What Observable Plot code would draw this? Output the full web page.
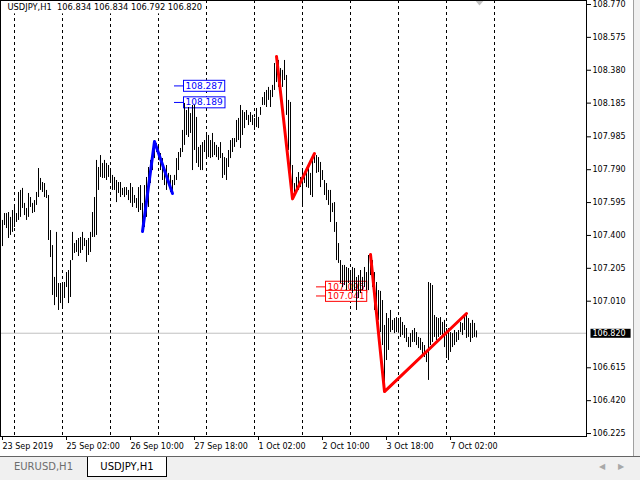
<!DOCTYPE html>
<html>
<head>
<meta charset="utf-8">
<script src="https://cdn.jsdelivr.net/npm/d3@7"></script>
<script src="https://cdn.jsdelivr.net/npm/@observablehq/plot@0.6"></script>
<style>
html, body { margin: 0; padding: 0; background: #f0f0f0; }
#wrap { position: relative; width: 640px; height: 480px; overflow: hidden; background: #f0f0f0; font-family: "DejaVu Sans", sans-serif; }
#chart { position: absolute; left: 0; top: 0; }
#chart svg text { white-space: pre; }
#vline { position: absolute; left: 633px; top: 0; width: 1px; height: 457px; background: #a0a0a0; }
#tabs { position: absolute; left: 0; top: 456px; width: 640px; height: 24px; background: #f0f0f0; border-top: 1px solid #646464; box-sizing: border-box; }
.tab { position: absolute; top: 0; font-size: 10px; text-align: center; line-height: 20px; }
.inactive { left: 0; width: 87px; height: 20px; color: #6d6d6d; }
.active { left: 87px; width: 78px; height: 19px; background: #fff; border: 1px solid #000; border-top: none; color: #000; }
.arrow { position: absolute; top: 5px; font-size: 8px; color: #a8a8a8; }
</style>
</head>
<body>
<div id="wrap">
  <div id="chart"></div>
  <div id="vline"></div>
  <div id="tabs">
    <div class="tab inactive">EURUSD,H1</div>
    <div class="tab active">USDJPY,H1</div>
    <span class="arrow" style="left:599px">◀</span>
    <span class="arrow" style="left:618px">▶</span>
  </div>
</div>
<script>
// ---- data ----
const symbol = "USDJPY";
const period = "H1";
const lastOHLC = [106.834, 106.834, 106.792, 106.820];

const highs = [
107.489,107.530,107.530,107.536,107.507,107.548,107.578,107.530,107.655,107.667,
107.679,107.590,107.560,107.649,107.625,107.590,107.607,107.655,107.797,107.738,
107.714,107.708,107.667,107.637,107.429,107.340,107.151,107.418,107.115,107.115,
107.115,107.121,107.180,107.192,107.251,107.418,107.352,107.370,107.382,107.388,
107.418,107.382,107.370,107.382,107.418,107.536,107.625,107.845,107.803,107.874,
107.827,107.845,107.827,107.815,107.797,107.756,107.744,107.726,107.714,107.714,
107.679,107.684,107.684,107.667,107.708,107.684,107.637,107.619,107.684,107.696,
107.590,107.696,107.744,107.803,107.845,107.892,107.957,107.945,107.922,107.886,
107.856,107.803,107.815,107.768,107.756,107.726,107.756,107.856,107.892,107.916,
108.023,108.183,108.141,108.159,108.123,108.171,108.171,108.100,107.922,107.934,
107.951,107.963,108.005,107.993,107.963,108.005,107.951,107.934,107.922,107.951,
107.886,107.862,107.856,107.904,107.963,107.975,107.975,108.082,108.094,108.171,
108.141,108.129,108.141,108.112,108.129,108.112,108.094,108.153,108.100,108.159,
108.218,108.248,108.260,108.278,108.260,108.290,108.420,108.462,108.438,108.390,
108.379,108.438,108.349,108.201,108.189,107.815,107.708,107.744,107.773,107.744,
107.785,107.756,107.785,107.797,107.768,107.862,107.886,107.874,107.862,107.833,
107.785,107.726,107.708,107.667,107.667,107.590,107.595,107.477,107.352,107.251,
107.222,107.222,107.210,107.204,107.192,107.210,107.204,107.151,107.162,107.192,
107.151,107.210,107.180,107.281,107.287,107.251,107.180,107.121,107.073,107.068,
107.014,106.866,106.937,106.907,106.955,106.896,106.907,106.913,106.907,106.913,
106.884,106.866,106.848,106.795,106.818,106.836,106.848,106.824,106.795,106.789,
106.765,106.747,106.718,107.121,107.115,107.103,106.925,106.913,106.907,106.913,
106.884,106.896,106.848,106.848,106.824,106.818,106.836,106.824,106.836,106.884,
106.878,106.913,106.937,106.907,106.878,106.896,106.878,106.834
];
const lows = [
107.334,107.459,107.441,107.382,107.400,107.418,107.447,107.477,107.489,107.507,
107.560,107.518,107.489,107.507,107.566,107.530,107.536,107.578,107.625,107.667,
107.655,107.625,107.619,107.370,107.269,107.044,106.984,107.032,106.955,106.996,
106.967,107.026,107.091,106.996,107.032,107.251,107.293,107.299,107.275,107.293,
107.311,107.334,107.240,107.281,107.299,107.388,107.388,107.400,107.667,107.744,
107.738,107.738,107.726,107.744,107.708,107.667,107.667,107.595,107.649,107.625,
107.637,107.625,107.637,107.607,107.590,107.566,107.590,107.560,107.536,107.548,
107.423,107.447,107.507,107.566,107.708,107.785,107.856,107.892,107.845,107.785,
107.726,107.696,107.667,107.696,107.655,107.649,107.696,107.726,107.785,107.862,
107.892,107.934,107.993,107.981,108.005,107.785,107.904,107.827,107.803,107.785,
107.785,107.892,107.862,107.862,107.856,107.862,107.874,107.862,107.845,107.856,
107.738,107.756,107.726,107.803,107.856,107.892,107.922,107.951,107.963,107.916,
107.993,108.034,108.082,108.052,108.070,108.052,108.023,108.040,108.034,108.112,
108.171,108.171,108.159,108.201,108.159,108.218,108.260,108.307,108.278,108.218,
108.278,108.319,108.112,107.904,107.744,107.617,107.625,107.655,107.667,107.684,
107.566,107.708,107.684,107.679,107.637,107.625,107.827,107.768,107.773,107.684,
107.726,107.637,107.607,107.578,107.477,107.536,107.418,107.251,107.234,107.115,
107.091,107.103,107.073,107.115,107.073,107.056,107.073,106.955,107.026,107.056,
107.073,107.091,107.073,107.073,107.162,107.091,106.955,106.955,106.896,106.824,
106.747,106.474,106.658,106.718,106.824,106.836,106.818,106.824,106.824,106.795,
106.807,106.789,106.765,106.735,106.735,106.765,106.765,106.747,106.729,106.718,
106.688,106.676,106.646,106.540,106.747,106.765,106.795,106.777,106.795,106.807,
106.807,106.735,106.670,106.658,106.706,106.735,106.747,106.765,106.777,106.824,
106.807,106.836,106.789,106.795,106.765,106.789,106.795,106.792
];

const yTicks = [108.770,108.575,108.380,108.185,107.985,107.790,107.595,107.400,107.205,107.010,106.615,106.420,106.225];
const xTickBars = [0,32,64,96,128,160,192,224];
const xTickLabels = ["23 Sep 2019","25 Sep 02:00","26 Sep 10:00","27 Sep 18:00","1 Oct 02:00","2 Oct 10:00","3 Oct 18:00","7 Oct 02:00"];
const daySepBars = [6,30,54,78,102,126,150,174,198,222,246];

const blueZigBars = [70,76,85];
const blueZigPrices = [107.423,107.957,107.649];
const redZig1Bars = [137,145,156];
const redZig1Prices = [108.462,107.617,107.886];
const redZig2Bars = [184,191,232];
const redZig2Prices = [107.287,106.474,106.937];

const blueLabelPrices = [108.287,108.189];
const blueLabelBar = 86;
const redLabelPrices = [107.095,107.041];
const redLabelBar = 157;
const leaderBars = 4.5;
const shiftBar = 238.5;

// ---- tables ----
const bars = highs.map((h, i) => ({i, high: h, low: lows[i]}));
const zig = (b, p) => b.map((x, k) => ({bar: x, price: p[k]}));
const blueZig = zig(blueZigBars, blueZigPrices);
const redZig1 = zig(redZig1Bars, redZig1Prices);
const redZig2 = zig(redZig2Bars, redZig2Prices);
const blueLabels = blueLabelPrices.map(p => ({bar: blueLabelBar, price: p}));
const redLabels = redLabelPrices.map(p => ({bar: redLabelBar, price: p}));
const close = lastOHLC[3];
const title = `${symbol},${period}  ` + lastOHLC.map(v => v.toFixed(3)).join(" ");

// downward triangle symbol for the chart-shift marker
const downTriangle = {
  draw(ctx, size) {
    const w = Math.sqrt(size) * 0.75, h = w * 1.2;
    ctx.moveTo(-w, 0); ctx.lineTo(w, 0); ctx.lineTo(0, h); ctx.closePath();
  }
};

const svg = Plot.plot({
  width: 633,
  height: 457,
  marginLeft: 0,
  marginRight: 47,
  marginTop: 0,
  marginBottom: 21,
  style: {background: "white", fontFamily: "DejaVu Sans", fontSize: "8px", color: "black", overflow: "visible"},
  x: {type: "linear", domain: [-1, 292], axis: null},
  y: {type: "linear", domain: [106.2074, 108.7937], axis: null},
  marks: [
    Plot.ruleX(daySepBars, {x: d => d, stroke: "#000", strokeDasharray: "3,3"}),
    Plot.ruleY([close], {y: d => d, stroke: "#c0c0c0"}),
    Plot.ruleY(blueLabels, {y: "price", x1: "bar", x2: d => d.bar + leaderBars, stroke: "#0000ff"}),
    Plot.text(blueLabels, {x: "bar", y: "price", text: d => d.price.toFixed(3), dx: 11, textAnchor: "start", fill: "#0000ff", fontSize: 9, ariaDescription: "blue-labels"}),
    Plot.ruleY(redLabels, {y: "price", x1: "bar", x2: d => d.bar + leaderBars, stroke: "#ff0000"}),
    Plot.text(redLabels, {x: "bar", y: "price", text: d => d.price.toFixed(3), dx: 11, textAnchor: "start", fill: "#ff0000", fontSize: 9, ariaDescription: "red-labels"}),
    Plot.ruleX(bars, {x: "i", y1: "low", y2: "high", stroke: "#000", strokeWidth: 1}),
    Plot.line(blueZig, {x: "bar", y: "price", stroke: "#0000ff", strokeWidth: 3}),
    Plot.line(redZig1, {x: "bar", y: "price", stroke: "#ff0000", strokeWidth: 3}),
    Plot.line(redZig2, {x: "bar", y: "price", stroke: "#ff0000", strokeWidth: 3}),
    Plot.text([title], {frameAnchor: "top-left", dx: 7, dy: 4, textAnchor: "start", lineAnchor: "top", fill: "#000", fontSize: 8.3, ariaDescription: "title"}),
    Plot.dot([shiftBar], {x: d => d, frameAnchor: "top", symbol: downTriangle, r: 3.2, fill: "#c0c0c0", stroke: "none"}),
    Plot.frame({stroke: "#000"}),
    Plot.axisY(yTicks, {anchor: "right", tickSize: 4, tickPadding: 2, tickFormat: d => d.toFixed(3)}),
    Plot.axisX(xTickBars, {anchor: "bottom", tickSize: 4, tickPadding: 2.5, textAnchor: "start", tickFormat: d => xTickLabels[xTickBars.indexOf(d)]}),
    Plot.text([close], {y: d => d, frameAnchor: "right", text: d => d.toFixed(3), dx: 6, textAnchor: "start", fill: "#fff", fontSize: 8, ariaDescription: "current-price"})
  ]
});
document.getElementById("chart").appendChild(svg);

// boxes behind label texts
function boxTexts(desc, stroke, fill, pad) {
  const groups = Array.from(svg.querySelectorAll("g")).filter(g => g.getAttribute("aria-description") === desc);
  groups.forEach(g => {
    g.querySelectorAll("text").forEach(t => {
      const b = t.getBBox();
      const r = document.createElementNS("http://www.w3.org/2000/svg", "rect");
      r.setAttribute("x", b.x - pad[0]);
      r.setAttribute("y", b.y - pad[1]);
      r.setAttribute("width", b.width + pad[0] + pad[2]);
      r.setAttribute("height", b.height + pad[1] + pad[3]);
      r.setAttribute("fill", fill);
      r.setAttribute("stroke", stroke);
      const tr = t.getAttribute("transform");
      if (tr) r.setAttribute("transform", tr);
      t.parentNode.insertBefore(r, t);
    });
  });
}
boxTexts("blue-labels", "#0000ff", "#ffffff", [2, 0.5, 2, 0.5]);
boxTexts("red-labels", "#ff0000", "#ffffff", [2, 0.5, 2, 0.5]);
boxTexts("title", "none", "#ffffff", [7, 6, 2, 1]);
boxTexts("current-price", "none", "#000000", [2, 0, 5, 0]);
</script>
</body>
</html>
